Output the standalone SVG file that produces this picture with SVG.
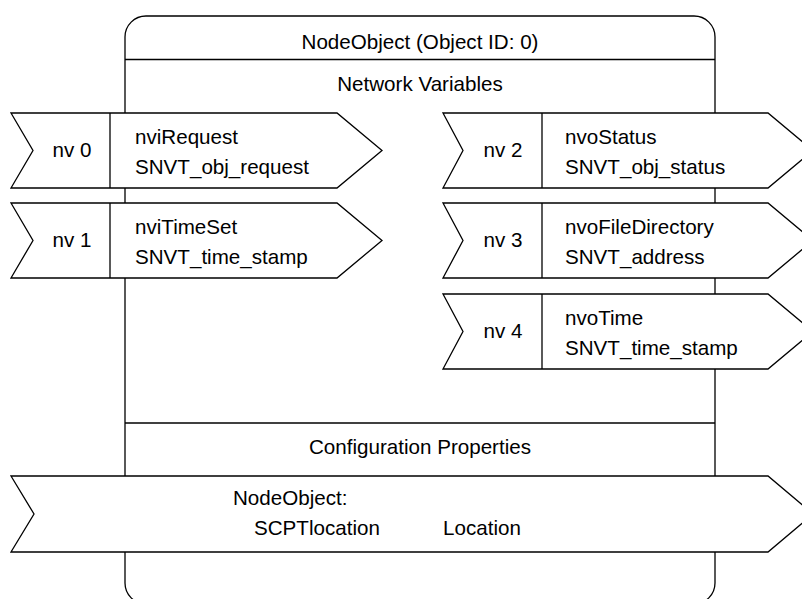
<svg xmlns="http://www.w3.org/2000/svg" width="802" height="599" viewBox="0 0 802 599">
<style>
text{font-family:"Liberation Sans",Arial,sans-serif;font-size:20.6px;fill:#000}
.c{text-anchor:middle}
.s{fill:#fff;stroke:#000;stroke-width:1.3}
.l{stroke:#000;stroke-width:1.3;fill:none}
</style>
<rect width="802" height="599" fill="#fff"/>
<g id="nodeobject">
<rect class="s" x="125" y="16" width="590" height="588" rx="21" ry="21"/>
<line class="l" x1="125" y1="59.5" x2="715" y2="59.5"/>
<line class="l" x1="125" y1="423" x2="715" y2="423"/>
<text class="c" x="420" y="49">NodeObject (Object ID: 0)</text>
<text class="c" x="420" y="91">Network Variables</text>
<text class="c" x="420" y="454">Configuration Properties</text>
</g>
<g id="connectors"></g>
<g id="nv0">
<path class="s" d="M11,113 H337 L382,150.5 L337,188 H11 L33,150.5 Z"/>
<line class="l" x1="110" y1="113" x2="110" y2="188"/>
<text class="c" x="72" y="157">nv 0</text>
<text x="135" y="144">nviRequest</text>
<text x="135" y="174">SNVT_obj_request</text>
</g>
<g id="nv1">
<path class="s" d="M11,203 H337 L382,240.5 L337,278 H11 L33,240.5 Z"/>
<line class="l" x1="110" y1="203" x2="110" y2="278"/>
<text class="c" x="72" y="247">nv 1</text>
<text x="135" y="234">nviTimeSet</text>
<text x="135" y="264">SNVT_time_stamp</text>
</g>
<g id="nv2">
<path class="s" d="M443,113 H768 L813,150.5 L768,188 H443 L463,150.5 Z"/>
<line class="l" x1="542" y1="113" x2="542" y2="188"/>
<text class="c" x="503" y="157">nv 2</text>
<text x="565" y="144">nvoStatus</text>
<text x="565" y="174">SNVT_obj_status</text>
</g>
<g id="nv3">
<path class="s" d="M443,203 H768 L813,240.5 L768,278 H443 L463,240.5 Z"/>
<line class="l" x1="542" y1="203" x2="542" y2="278"/>
<text class="c" x="503" y="247">nv 3</text>
<text x="565" y="234">nvoFileDirectory</text>
<text x="565" y="264">SNVT_address</text>
</g>
<g id="nv4">
<path class="s" d="M443,294 H768 L813,331.5 L768,369 H443 L463,331.5 Z"/>
<line class="l" x1="542" y1="294" x2="542" y2="369"/>
<text class="c" x="503" y="338">nv 4</text>
<text x="565" y="325">nvoTime</text>
<text x="565" y="355">SNVT_time_stamp</text>
</g>
<g id="config">
<path class="s" d="M11,476 H768 L813,514 L768,552 H11 L34,514 Z"/>
<text x="233" y="505">NodeObject:</text>
<text x="254" y="535">SCPTlocation</text>
<text x="443" y="535">Location</text>
</g>
</svg>
